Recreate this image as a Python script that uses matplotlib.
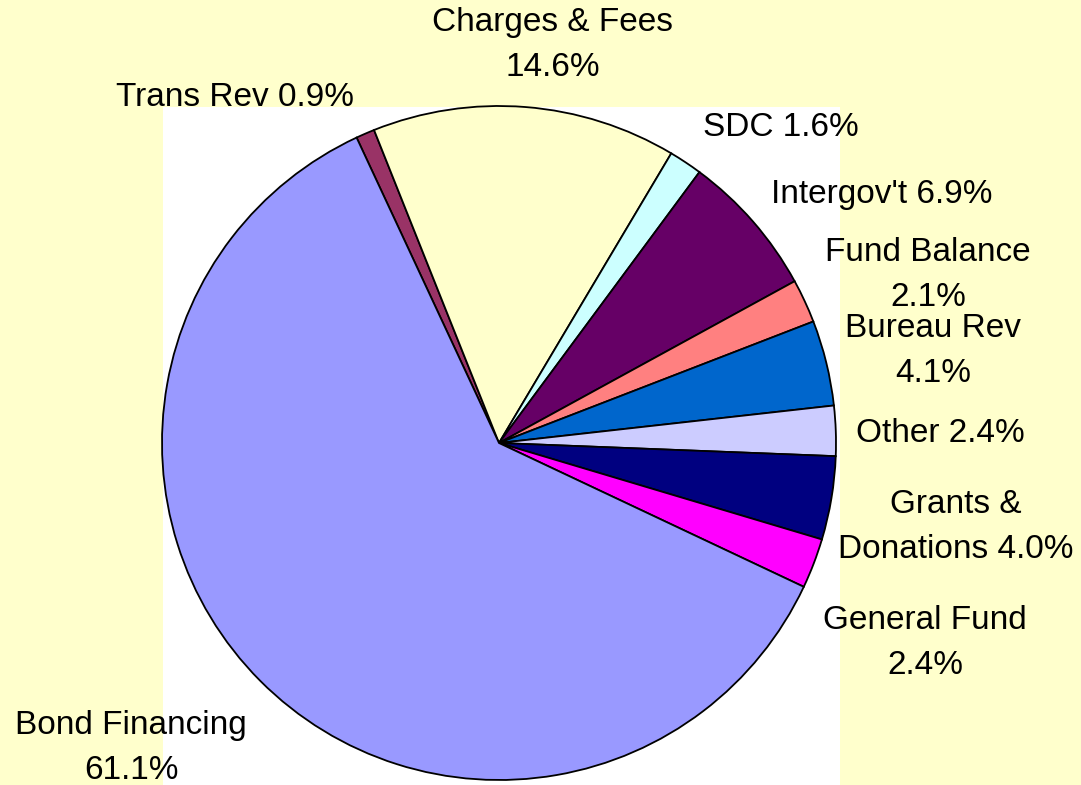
import matplotlib
matplotlib.use("Agg")
import matplotlib.pyplot as plt
from matplotlib.patches import Rectangle

# ---- data ----
categories = ["Trans Rev", "Charges & Fees", "SDC", "Intergov't", "Fund Balance",
              "Bureau Rev", "Other", "Grants & Donations", "General Fund", "Bond Financing"]
values = [0.9, 14.6, 1.6, 6.9, 2.1, 4.1, 2.4, 4.0, 2.4, 61.1]
label_texts = ["Trans Rev 0.9%", "Charges & Fees\n14.6%", "SDC 1.6%", "Intergov't 6.9%",
               "Fund Balance\n2.1%", "Bureau Rev\n4.1%", "Other 2.4%",
               "Grants &\nDonations 4.0%", "General Fund\n2.4%", "Bond Financing\n61.1%"]
colors = ["#993366", "#FFFFCC", "#CCFFFF", "#660066", "#FF8080",
          "#0066CC", "#CCCCFF", "#000080", "#FF00FF", "#9999FF"]

# label centres in pixel coordinates (x from left, y from top)
label_pos_px = [(235, 97), (553, 45), (781, 127), (882, 194), (928, 275),
                (933, 351), (940, 433), (956, 527), (925, 643), (131, 748)]

W, H = 1081, 785
fig = plt.figure(figsize=(W / 100, H / 100), dpi=100)
fig.patch.set_facecolor("#FFFFCC")

# white plot area (background axes)
bg = fig.add_axes([163 / W, 0, (840 - 163) / W, (785 - 107) / H], zorder=-1)
bg.axis("off")
bg.add_patch(Rectangle((0, 0), 1, 1, transform=bg.transAxes, facecolor="white",
                       edgecolor="none"))

cx, cy, r = 499, 443, 337
ax = fig.add_axes([(cx - r) / W, (H - cy - r) / H, 2 * r / W, 2 * r / H], zorder=1)
ax.set_facecolor("none")
ax.pie(values, colors=colors, startangle=115, counterclock=False, radius=1,
       wedgeprops=dict(edgecolor="black", linewidth=1.3))
ax.set_xlim(-1, 1)
ax.set_ylim(-1, 1)
ax.set_aspect("auto")
ax.axis("off")

for txt, (px, py) in zip(label_texts, label_pos_px):
    fig.text(px / W, 1 - py / H, txt, ha="center", va="center", fontsize=24,
             family="Liberation Sans", color="black", linespacing=1.6, zorder=5)

fig.savefig("out.png", dpi=100, facecolor=fig.get_facecolor())
